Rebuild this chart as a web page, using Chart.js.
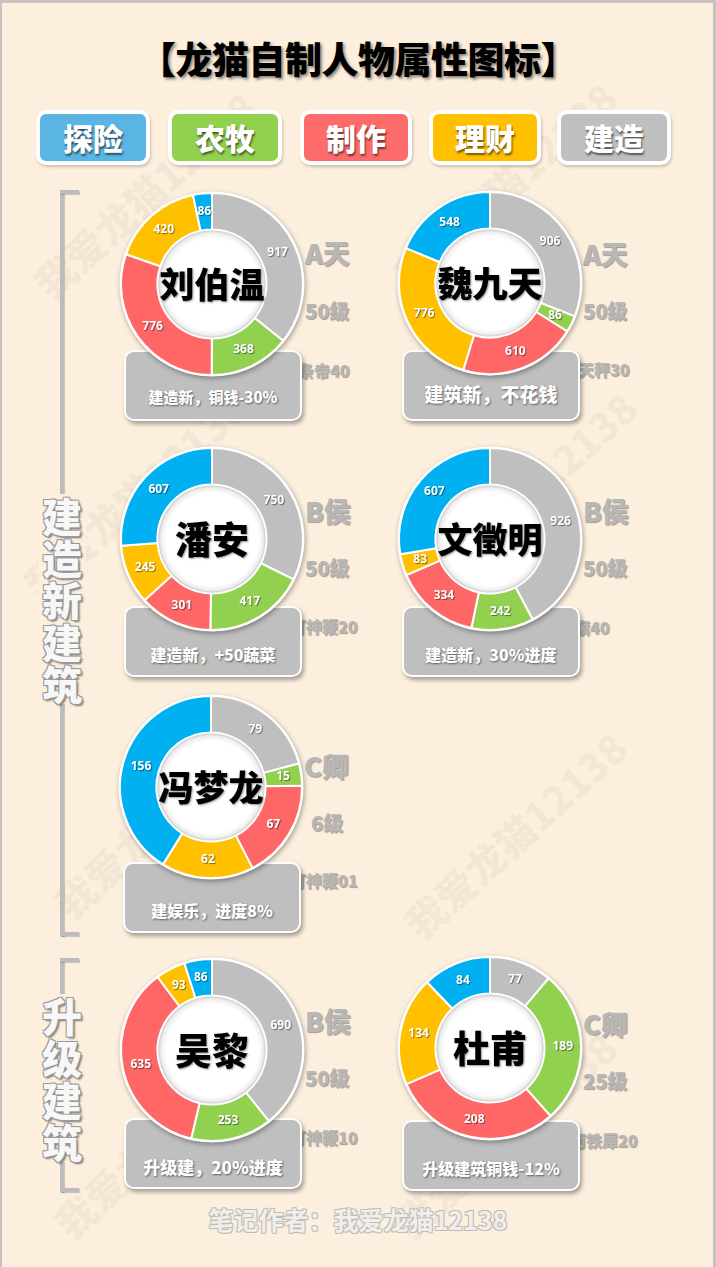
<!DOCTYPE html>
<html>
<head>
<meta charset="utf-8">
<script src="https://cdn.jsdelivr.net/npm/chart.js@4.4.0/dist/chart.umd.min.js"></script>
<style>
  html, body { margin: 0; padding: 0; }
  body { width: 716px; height: 1267px; overflow: hidden; background: #fdefdd; }
  #page {
    position: relative; width: 716px; height: 1267px;
    background: #fdefdd; font-family: "Noto Sans CJK SC", "Noto Sans", sans-serif; overflow: hidden;
  }
  #frame {
    position: absolute; left: 0; top: 0; width: 716px; height: 1267px; box-sizing: border-box; z-index: 9;
    border-top: 3px solid #c8c3c0; border-left: 2px solid #c8c3c0; border-right: 3px solid #c8c3c0; pointer-events: none;
  }
  .abs { position: absolute; }
  #title {
    left: 0; width: 716px; top: 31px; text-align: center; font-size: 37px; font-weight: 900;
    color: #000; text-shadow: 2px 2px 3px rgba(0,0,0,0.45); letter-spacing: -0.5px;
  }
  .tag {
    height: 47px; border: 4px solid #fff; border-radius: 10px; box-shadow: 1px 2px 3px rgba(0,0,0,0.2);
    color: #fff; font-size: 30px; font-weight: 900; text-align: center; line-height: 46px;
    text-shadow: 1px 2px 2px rgba(0,0,0,0.55);
  }
  .box {
    width: 174px; height: 67px; background: #bfbfbf; border: 2px solid #fff; border-radius: 10px;
    box-shadow: 2px 3px 4px rgba(0,0,0,0.35); z-index: 2; color: #fff; font-weight: 900; text-align: center;
    text-shadow: 1px 1px 2px rgba(0,0,0,0.5);
  }
  .box span { position: absolute; left: 0; width: 100%; }
  canvas { position: absolute; z-index: 3; }
  .side { z-index: 1; color: #b7b7b7; font-weight: 900; white-space: nowrap; text-shadow: 1px 1px 1px rgba(0,0,0,0.35); }
  .bar { background: #bcbcbc; box-shadow: 1px 1px 1px rgba(0,0,0,0.2); }
  .vtext {
    width: 48px; text-align: center; font-size: 40px; line-height: 42px; font-weight: 900; color: #f7f7f7;
    background: #fdefdd;
    text-shadow: -1px -1px 0 #999, 1px -1px 0 #999, -1px 1px 0 #999, 1px 1px 0 #999, 2px 2px 2px #777;
  }
  .footer {
    left: 0; width: 716px; text-align: center; font-size: 25px; font-weight: 700; color: #f3eee9;
    text-shadow: -1px -1px 0 #bdbdbd, 1px -1px 0 #bdbdbd, -1px 1px 0 #bdbdbd, 1px 1px 0 #bdbdbd;
  }
  .wm { color: rgba(160,150,140,0.09); font-size: 40px; font-weight: 900; white-space: nowrap; transform: rotate(-42deg); transform-origin: left center; }
</style>
</head>
<body>
<div id="page">
  <div id="frame"></div>
  <div id="title" class="abs">【龙猫自制人物属性图标】</div>
</div>
<script>
// ========== 数据 ==========
const names      = ["刘伯温", "魏九天", "潘安", "文徵明", "冯梦龙", "吴黎", "杜甫"];
const categories = ["建造", "农牧", "制作", "理财", "探险"];
const buildVals   = [917, 906, 750, 926, 79, 690, 77];   // 建造
const farmVals    = [368, 86, 417, 242, 15, 253, 189];   // 农牧
const craftVals   = [776, 610, 301, 334, 67, 635, 208];  // 制作
const moneyVals   = [420, 776, 245, 83, 62, 93, 134];    // 理财
const exploreVals = [86, 548, 607, 607, 156, 86, 84];    // 探险
const ranks  = ["A天", "A天", "B侯", "B侯", "C卿", "B侯", "C卿"];
const levels = ["50级", "50级", "50级", "50级", "6级", "50级", "25级"];
const items  = ["条帝40", "天秤30", "打神鞭20", "旗40", "打神鞭01", "打神鞭10", "河铁犀20"];
const notes  = ["建造新，铜钱-30%", "建筑新，不花钱", "建造新，+50蔬菜", "建造新，30%进度",
                "建娱乐，进度8%", "升级建，20%进度", "升级建筑铜钱-12%"];
const groups = ["建造新建筑", "升级建筑"];
const footerText = "笔记作者：我爱龙猫12138";

(function () {
  const page = document.getElementById("page");

  // 颜色（按 categories 顺序）
  const ringColors = ["#bfbfbf", "#92d050", "#ff6666", "#ffc000", "#00b0f0"];
  const tagColors  = ["#bfbfbf", "#92d050", "#fe6b6b", "#ffc000", "#5ab4e4"];
  const legendOrder = [4, 1, 2, 3, 0]; // 探险 农牧 制作 理财 建造

  // 布局（圆心坐标）
  const centers = [[212, 284], [490, 283], [212, 539], [490, 539], [211, 787], [212, 1050], [490, 1048]];
  const boxTops = [350, 350, 606, 606, 862, 1118, 1120];
  const sideY   = [[252, 311, 370], [253, 311, 369], [510, 568, 626], [510, 568, 627],
                   [765, 823, 880], [1020, 1078, 1137], [1023, 1081, 1140]];
  const itemX   = [298, 578, 290, 574, 290, 290, 570];
  const noteSize = [15, 19, 16, 16, 16, 17, 16];

  const el = (cls, css, txt) => {
    const d = document.createElement("div");
    d.className = "abs " + (cls || "");
    Object.assign(d.style, css);
    if (txt != null) d.textContent = txt;
    page.appendChild(d);
    return d;
  };

  // 水印
  [[40, 260], [400, 250], [30, 560], [420, 560], [60, 880], [410, 900], [60, 1200], [400, 1200]].forEach(([x, y]) =>
    el("wm", { left: x + "px", top: y + "px" }, "我爱龙猫12138"));

  // 图例
  const tagX = [36, 168, 300, 429, 557];
  legendOrder.forEach((ci, i) => {
    el("tag", { left: tagX[i] + "px", top: "110px", width: (i === 2 || i === 3 ? 104 : 106) + "px",
                background: tagColors[ci] }, categories[ci]);
  });

  // 左侧括号
  function bracket(y1, y2, ty, text) {
    el("bar", { left: "60px", top: y1 + "px", width: "4px", height: (y2 - y1) + "px" });
    el("bar", { left: "60px", top: y1 + "px", width: "19px", height: "4px" });
    el("bar", { left: "60px", top: (y2 - 4) + "px", width: "19px", height: "4px" });
    const t = el("vtext", { left: "38px", top: ty + "px" });
    t.innerHTML = text.split("").join("<br>");
  }
  bracket(190, 936, 494, groups[0]);
  bracket(958, 1192, 994, groups[1]);

  el("footer", { top: "1201px" }, footerText);

  // 环形装饰：外阴影、内白圆、名字
  const ringDecor = {
    id: "ringDecor",
    beforeDatasetsDraw(chart) {
      const arc = chart.getDatasetMeta(0).data[0];
      const { ctx } = chart;
      ctx.save();
      ctx.shadowColor = "rgba(0,0,0,0.35)";
      ctx.shadowBlur = 5; ctx.shadowOffsetX = 1; ctx.shadowOffsetY = 2;
      ctx.fillStyle = "#fff";
      ctx.beginPath(); ctx.arc(arc.x, arc.y, arc.outerRadius + 1.5, 0, Math.PI * 2); ctx.fill();
      ctx.restore();
    },
    afterDatasetsDraw(chart) {
      const arc = chart.getDatasetMeta(0).data[0];
      const { ctx } = chart;
      const r = arc.innerRadius - 1;
      ctx.save();
      const g = ctx.createRadialGradient(arc.x + 3, arc.y + 3, 0, arc.x, arc.y, r);
      g.addColorStop(0, "#ffffff"); g.addColorStop(0.86, "#ffffff");
      g.addColorStop(0.95, "#efefef"); g.addColorStop(1, "#cdcdcd");
      ctx.fillStyle = g;
      ctx.beginPath(); ctx.arc(arc.x, arc.y, r, 0, Math.PI * 2); ctx.fill();
      // 名字
      const name = chart.options.plugins.ringDecor.name;
      const fs = name.length > 2 ? 35 : 37;
      ctx.font = `900 ${fs}px "Noto Sans CJK SC", sans-serif`;
      ctx.textAlign = "center"; ctx.textBaseline = "middle";
      ctx.shadowColor = "rgba(0,0,0,0.4)"; ctx.shadowBlur = 2; ctx.shadowOffsetX = 1; ctx.shadowOffsetY = 1;
      ctx.fillStyle = "#000";
      ctx.fillText(name, arc.x, arc.y + 1);
      ctx.restore();
    }
  };

  // 数值标签
  const valueLabels = {
    id: "valueLabels",
    afterDatasetsDraw(chart) {
      const { ctx } = chart;
      const ds = chart.data.datasets[0];
      ctx.save();
      ctx.font = '700 12px "Noto Sans", sans-serif';
      ctx.textAlign = "center"; ctx.textBaseline = "middle";
      ctx.fillStyle = "#fff";
      ctx.shadowColor = "rgba(0,0,0,0.45)"; ctx.shadowBlur = 1; ctx.shadowOffsetX = 1; ctx.shadowOffsetY = 1;
      chart.getDatasetMeta(0).data.forEach((a, i) => {
        const p = a.tooltipPosition();
        ctx.fillText(String(ds.data[i]), p.x, p.y);
      });
      ctx.restore();
    }
  };

  names.forEach((name, i) => {
    const [cx, cy] = centers[i];

    // 右侧文字
    el("side", { left: (cx + 93) + "px", top: (sideY[i][0] - 19) + "px", fontSize: "27px" }, ranks[i]);
    el("side", { left: (cx + 93 + (levels[i].length < 3 ? 7 : 0)) + "px", top: (sideY[i][1] - 15) + "px", fontSize: "20px" }, levels[i]);
    el("side", { left: itemX[i] + "px", top: (sideY[i][2] - 12) + "px", fontSize: "16px" }, items[i]);

    // 说明框
    const b = el("box", { left: (cx - 88) + "px", top: boxTops[i] + "px" });
    const s = document.createElement("span");
    s.textContent = notes[i];
    s.style.fontSize = noteSize[i] + "px";
    s.style.top = (i === 1 ? 28 : 34) + "px";
    b.appendChild(s);

    // 环形图
    const cv = document.createElement("canvas");
    cv.width = 200; cv.height = 200;
    cv.style.left = (cx - 100) + "px"; cv.style.top = (cy - 100) + "px";
    page.appendChild(cv);

    new Chart(cv, {
      type: "doughnut",
      data: {
        labels: categories,
        datasets: [{
          data: [buildVals[i], farmVals[i], craftVals[i], moneyVals[i], exploreVals[i]],
          backgroundColor: ringColors,
          borderColor: "#fff",
          borderWidth: 2
        }]
      },
      options: {
        responsive: false,
        animation: false,
        radius: 91,
        cutout: "60%",
        layout: { padding: 8 },
        plugins: { legend: { display: false }, tooltip: { enabled: false }, ringDecor: { name } }
      },
      plugins: [ringDecor, valueLabels]
    });
  });
})();
</script>
</body>
</html>
